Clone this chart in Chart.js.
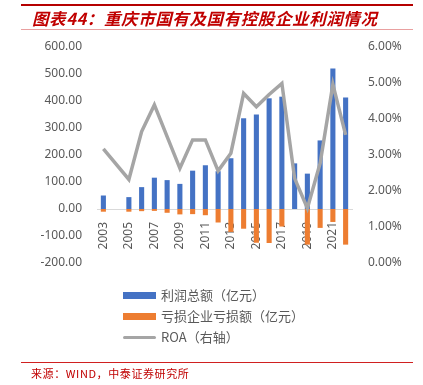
<!DOCTYPE html>
<html>
<head>
<meta charset="utf-8">
<script src="https://cdn.jsdelivr.net/npm/chart.js@4.4.1/dist/chart.umd.min.js"></script>
<style>
  html, body { margin:0; padding:0; background:#fff; }
  #wrap { position:relative; width:423px; height:385px; overflow:hidden; background:#fff; }
  #c { position:absolute; left:0; top:0; }
  .topline { position:absolute; left:21px; width:392px; top:4px; height:2px; background:#b50000; }
  .subline { position:absolute; left:21px; width:392px; top:29px; height:1px; background:#e9a0a0; }
  .title { position:absolute; left:32px; top:8px; font-family:"Noto Sans CJK SC"; font-weight:bold; font-style:italic;
           font-size:16.5px; color:#c00000; letter-spacing:0.6px; line-height:20px; white-space:nowrap; }
  .footline { position:absolute; left:21px; width:392px; top:362px; height:1px; background:#d02020; }
  .source { position:absolute; left:31px; top:365px; font-family:"Noto Sans CJK SC"; font-size:11px; color:#c00000;
            line-height:16px; white-space:nowrap; letter-spacing:0.6px; }
  .leg { position:absolute; left:123px; font-family:"Noto Sans CJK SC"; font-size:13px; color:#595959; line-height:16px; white-space:nowrap; }
  .leg .sw { position:absolute; left:0; width:33px; }
  .leg .tx { position:absolute; left:38px; top:-8px; }
</style>
</head>
<body>
<div id="wrap">
  <canvas id="c" width="423" height="385"></canvas>
  <div class="topline"></div>
  <div class="title">图表44：重庆市国有及国有控股企业利润情况</div>
  <div class="subline"></div>
  <div id="legend"></div>
  <div class="footline"></div>
  <div class="source">来源：WIND，中泰证券研究所</div>
</div>
<script>
const years = ['2003','2004','2005','2006','2007','2008','2009','2010','2011','2012','2013','2014','2015','2016','2017','2018','2019','2020','2021','2022'];
const profitTotal = [50, null, 44, 81, 116, 107, 93, 142, 162, 140, 188, 336, 350, 410, 416, 169, 131, 254, 520, 413];
const lossAmount = [-10, null, -10, -8, -7, -14, -20, -19, -23, -50, -85, -73, -125, -126, -65, null, -132, -70, -48, -132];
const roaPct = [3.17, null, 2.32, 3.65, 4.39, 3.51, 2.63, 3.42, 3.42, 2.56, 3.05, 4.71, 4.34, 4.68, 4.99, 2.35, 1.52, 2.77, 4.96, 3.56];
const leftTicks = [-200, -100, 0, 100, 200, 300, 400, 500, 600];
const rightTicks = [0, 1, 2, 3, 4, 5, 6];
const seriesNames = ['利润总额（亿元）', '亏损企业亏损额（亿元）', 'ROA（右轴）'];
const colors = ['#4472C4', '#ED7D31', '#A5A5A5'];

// legend (HTML, vertical)
const legendTops = [295, 316, 337];
const legEl = document.getElementById('legend');
seriesNames.forEach((n, i) => {
  const d = document.createElement('div');
  d.className = 'leg';
  d.style.top = legendTops[i] + 'px';
  const h = i < 2 ? 7 : 3;
  d.innerHTML = '<div class="sw" style="top:' + (-h/2) + 'px;height:' + h + 'px;background:' + colors[i] + ';' + (i===2?'border-radius:2px;':'') + '"></div><div class="tx">' + n + '</div>';
  legEl.appendChild(d);
});

const axisFont = { family: 'Noto Sans', size: 12 };
new Chart(document.getElementById('c'), {
  data: {
    labels: years,
    datasets: [
      { type: 'line', label: seriesNames[2], data: roaPct, yAxisID: 'y1', borderColor: colors[2], backgroundColor: colors[2],
        borderWidth: 3.5, pointRadius: 0, tension: 0, spanGaps: true, order: 0 },
      { type: 'bar', label: seriesNames[0], data: profitTotal, yAxisID: 'y', backgroundColor: colors[0],
        barPercentage: 0.4, categoryPercentage: 1, order: 1 },
      { type: 'bar', label: seriesNames[1], data: lossAmount, yAxisID: 'y', backgroundColor: colors[1],
        barPercentage: 0.4, categoryPercentage: 1, order: 2 }
    ]
  },
  options: {
    responsive: false,
    animation: false,
    devicePixelRatio: 1,
    layout: { padding: { top: 47, bottom: 122, left: 0, right: 0 } },
    plugins: { legend: { display: false }, tooltip: { enabled: false } },
    scales: {
      x: {
        stacked: true,
        position: { y: 0 },
        grid: { display: false },
        border: { display: true, color: '#d9d9d9', width: 1 },
        ticks: {
          autoSkip: false, minRotation: 90, maxRotation: 90, padding: 5,
          color: '#595959', font: axisFont,
          callback: (v, i) => (i % 2 === 0 ? years[i] : '')
        }
      },
      y: {
        stacked: true,
        position: 'left',
        min: leftTicks[0], max: leftTicks[leftTicks.length - 1],
        afterFit: s => { s.width = 97; },
        afterBuildTicks: s => { s.ticks = leftTicks.map(v => ({ value: v })); },
        grid: { display: false },
        border: { display: false },
        ticks: { padding: 7, color: '#595959', font: axisFont, callback: v => Number(v).toFixed(2) }
      },
      y1: {
        position: 'right',
        min: rightTicks[0], max: rightTicks[rightTicks.length - 1],
        afterFit: s => { s.width = 71; },
        afterBuildTicks: s => { s.ticks = rightTicks.map(v => ({ value: v })); },
        grid: { display: false },
        border: { display: false },
        ticks: { padding: 8, color: '#595959', font: axisFont, callback: v => Number(v).toFixed(2) + '%' }
      }
    }
  }
});
</script>
</body>
</html>
